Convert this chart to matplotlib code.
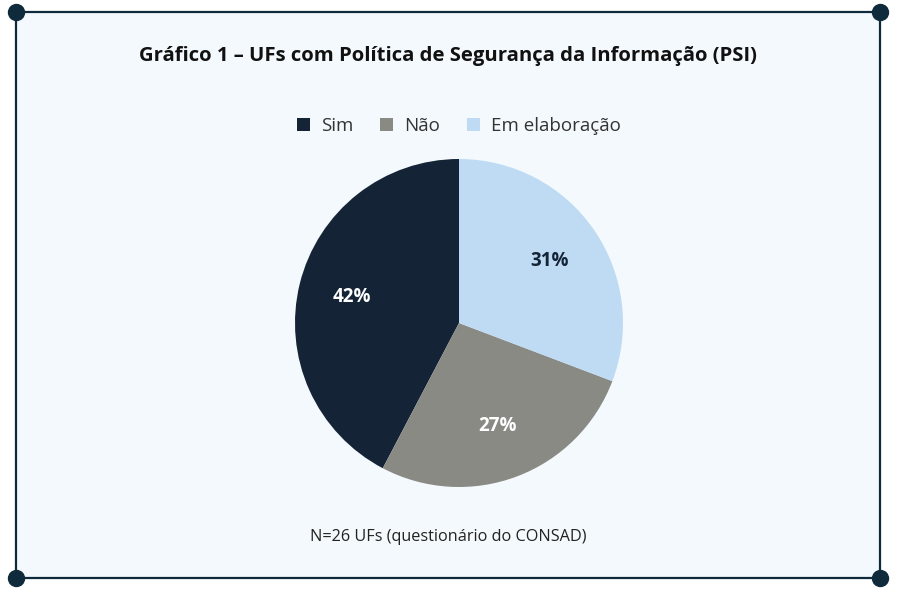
import matplotlib
matplotlib.use("Agg")
import matplotlib.pyplot as plt
from matplotlib.patches import Rectangle, Patch
from matplotlib.lines import Line2D

# dados do questionario CONSAD (26 UFs)
categorias = ["Sim", "Não", "Em elaboração"]
contagens = [11, 7, 8]
cores = ["#142335", "#8a8a84", "#bfdbf3"]
cores_rotulo = ["white", "white", "#142335"]

titulo = "Gráfico 1 – UFs com Política de Segurança da Informação (PSI)"
rodape = "N=26 UFs (questionário do CONSAD)"

W, H = 902, 592
fig = plt.figure(figsize=(W / 100, H / 100), dpi=100)
fig.patch.set_facecolor("white")

def fx(px):
    return px / W

def fy(py):
    return 1 - py / H

# moldura
x0, y0, x1, y1 = 16, 12, 880, 578
borda = "#0f2a3a"
fig.add_artist(Rectangle((fx(x0), fy(y1)), fx(x1) - fx(x0), fy(y0) - fy(y1),
                         transform=fig.transFigure, facecolor="#f3f9fc",
                         edgecolor=borda, linewidth=1.6, zorder=0))
for (px, py) in [(x0, y0), (x1, y0), (x0, y1), (x1, y1)]:
    fig.add_artist(Line2D([fx(px)], [fy(py)], marker="o", markersize=11.5,
                          color=borda, transform=fig.transFigure, zorder=5))

# pizza
cx, cy, r = 459, 323, 164
ax = fig.add_axes([fx(cx - r), fy(cy + r), 2 * r / W, 2 * r / H])
wedges, _, autotexts = ax.pie(contagens, colors=cores, startangle=90,
                              counterclock=True, autopct="%1.0f%%",
                              pctdistance=0.67,
                              wedgeprops=dict(linewidth=0),
                              textprops=dict(fontsize=13.5, fontweight="bold",
                                             family="Open Sans"))
for t, c in zip(autotexts, cores_rotulo):
    t.set_color(c)
ax.set_xlim(-1, 1)
ax.set_ylim(-1, 1)
ax.set_aspect("equal")

# titulo, legenda e rodape
fig.text(fx(448), fy(56), titulo, ha="center", va="center", fontsize=14.6,
         fontweight="bold", family="Open Sans", color="#111111")

handles = [Patch(facecolor=c, edgecolor="none") for c in cores]
fig.legend(handles, categorias, loc="center", bbox_to_anchor=(fx(459), fy(126)),
           ncol=3, frameon=False, handlelength=0.7, handleheight=0.7,
           handletextpad=0.6, columnspacing=1.4,
           prop=dict(family="Open Sans", size=13.5), labelcolor="#333333")

fig.text(fx(448), fy(537), rodape, ha="center", va="center", fontsize=11.7,
         family="Open Sans", color="#222222")

fig.savefig("out.png", dpi=100, facecolor=fig.get_facecolor())
